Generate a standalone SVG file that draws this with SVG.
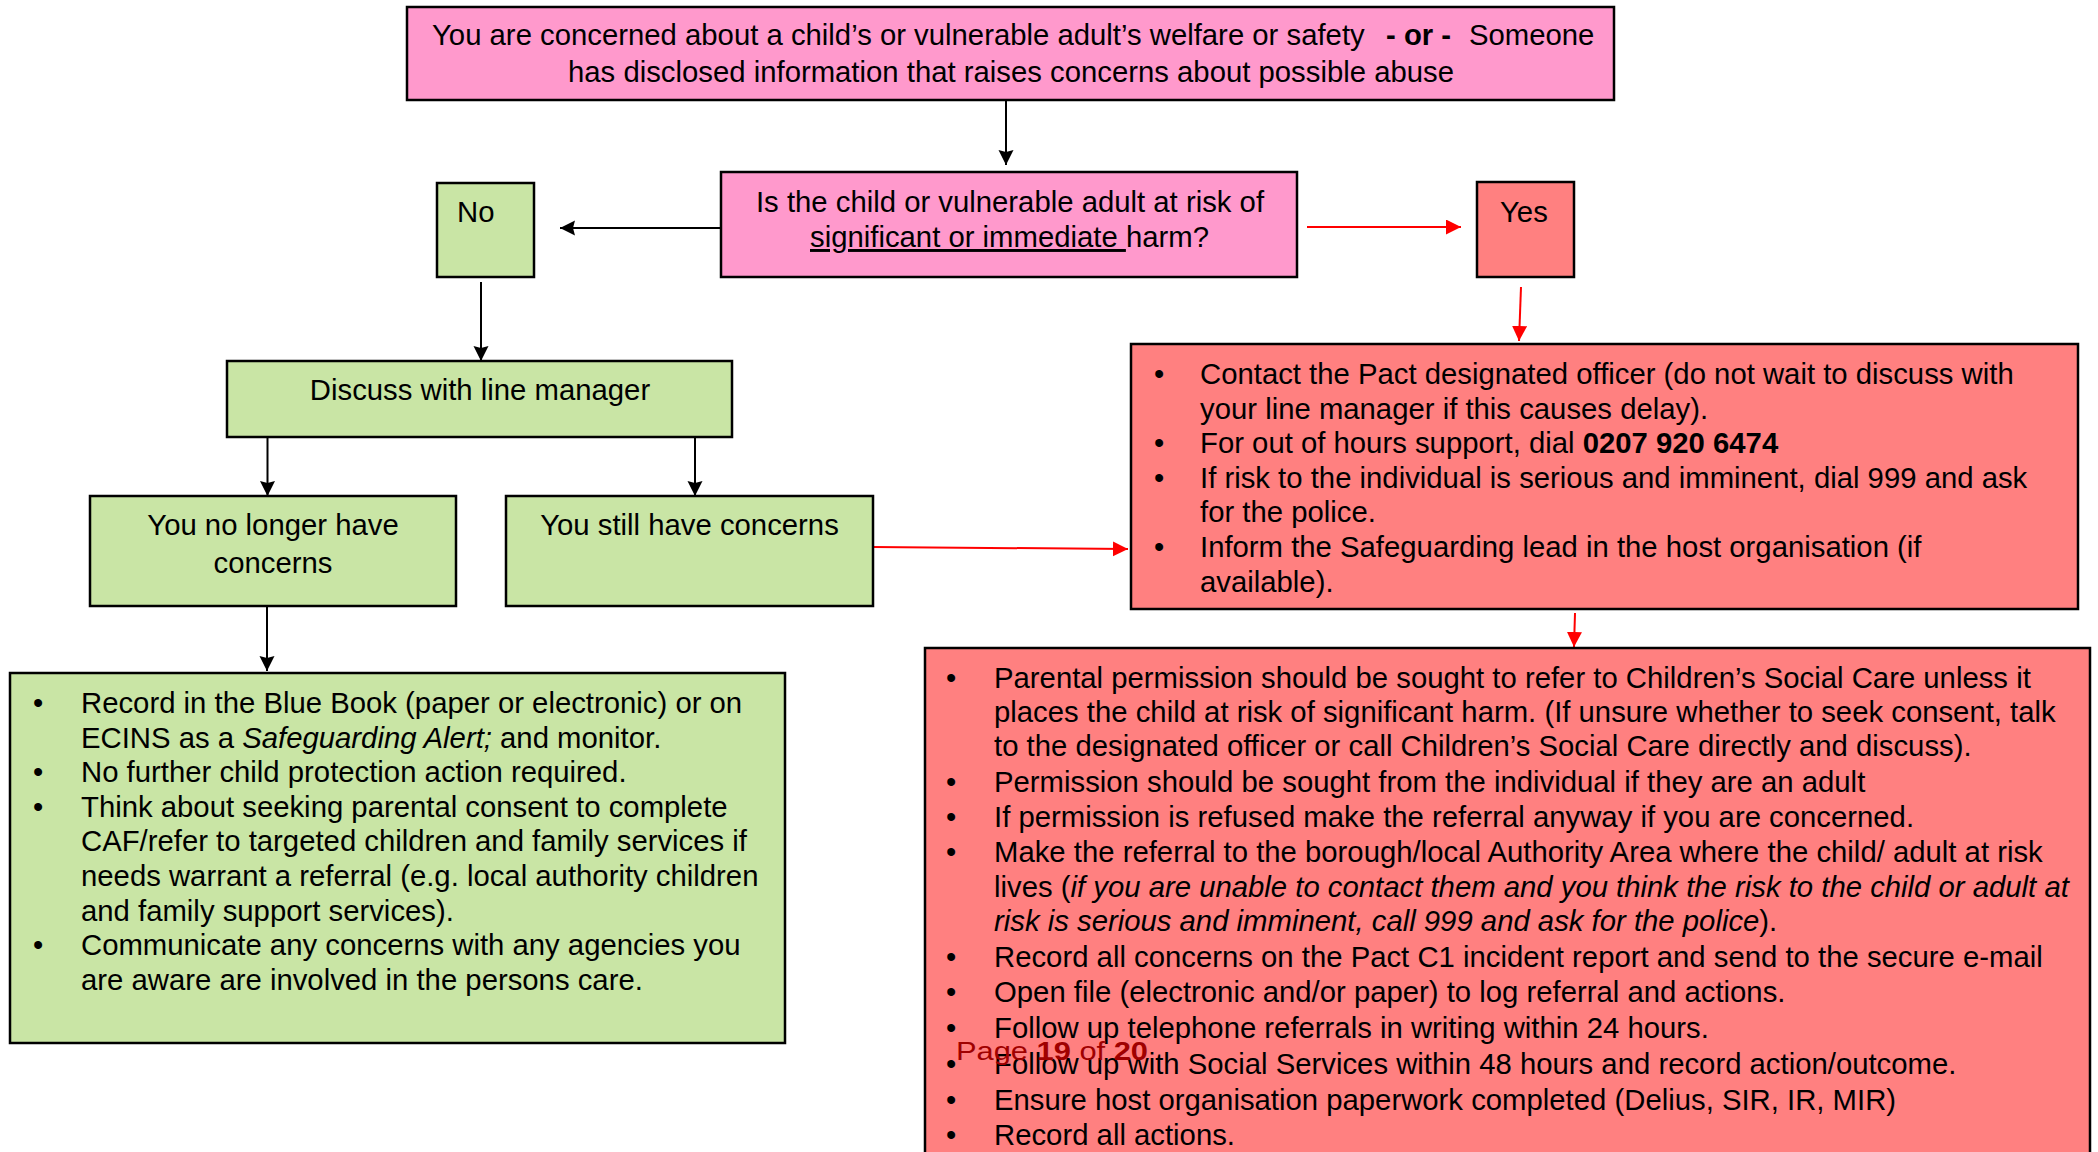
<svg xmlns="http://www.w3.org/2000/svg" width="2098" height="1152" viewBox="0 0 2098 1152">
<style>
.t{font-family:"Liberation Sans",Arial,sans-serif;font-size:29.3px;fill:#000}
.c{text-anchor:middle}
.b{font-weight:bold}
.i{font-style:italic}
.pink{fill:#FF99CC;stroke:#000;stroke-width:2.5}
.green{fill:#C9E5A5;stroke:#000;stroke-width:2.5}
.red{fill:#FF8080;stroke:#000;stroke-width:2.5}
.blk{stroke:#000;stroke-width:2;fill:none}
.rl{stroke:#FF0000;stroke-width:2;fill:none}
.foot{font-family:"Liberation Sans",Arial,sans-serif;font-size:25px;fill:#A00000}
</style>
<defs>
<marker id="ab" markerUnits="userSpaceOnUse" markerWidth="16" markerHeight="16" refX="15" refY="7.5" orient="auto">
<path d="M0,0 L15,7.5 L0,15 L2,7.5 z" fill="#000"/>
</marker>
<marker id="ar" markerUnits="userSpaceOnUse" markerWidth="16" markerHeight="16" refX="15" refY="7.5" orient="auto">
<path d="M0,0 L15,7.5 L0,15 z" fill="#FF0000"/>
</marker>
</defs>
<rect width="2098" height="1152" fill="#fff"/>

<g id="connectors">
<line class="blk" x1="1006" y1="100" x2="1006" y2="165" marker-end="url(#ab)"/>
<line class="blk" x1="720" y1="228" x2="560" y2="228" marker-end="url(#ab)"/>
<line class="rl" x1="1307" y1="227" x2="1461" y2="227" marker-end="url(#ar)"/>
<line class="blk" x1="481" y1="282" x2="481" y2="361" marker-end="url(#ab)"/>
<line class="rl" x1="1521" y1="287" x2="1519" y2="341" marker-end="url(#ar)"/>
<line class="blk" x1="267.5" y1="437" x2="267.5" y2="496" marker-end="url(#ab)"/>
<line class="blk" x1="695" y1="437" x2="695" y2="496" marker-end="url(#ab)"/>
<line class="rl" x1="873" y1="547" x2="1128" y2="549" marker-end="url(#ar)"/>
<line class="blk" x1="267" y1="606" x2="267" y2="671" marker-end="url(#ab)"/>
<line class="rl" x1="1575" y1="613" x2="1574" y2="647" marker-end="url(#ar)"/>
</g>

<g id="start">
<rect class="pink" x="407" y="7" width="1207" height="93"/>
<text class="t" y="45"><tspan x="432">You are concerned about a child’s or vulnerable adult’s welfare or safety</tspan><tspan x="1386" class="b">- or -</tspan><tspan x="1469">Someone</tspan></text>
<text class="t c" x="1011" y="82">has disclosed information that raises concerns about possible abuse</text>
</g>

<g id="question">
<rect class="pink" x="721" y="172" width="576" height="105"/>
<text class="t c" x="1010" y="212">Is the child or vulnerable adult at risk of</text>
<text class="t" x="810" y="247"><tspan text-decoration="underline">significant or immediate </tspan>harm?</text>
</g>

<g id="no">
<rect class="green" x="437" y="183" width="97" height="94"/>
<text class="t" x="457" y="222">No</text>
</g>

<g id="yes">
<rect class="red" x="1477" y="182" width="97" height="95"/>
<text class="t" x="1500" y="222">Yes</text>
</g>

<g id="discuss">
<rect class="green" x="227" y="361" width="505" height="76"/>
<text class="t c" x="480" y="400">Discuss with line manager</text>
</g>

<g id="nolonger">
<rect class="green" x="90" y="496" width="366" height="110"/>
<text class="t c" x="273" y="535">You no longer have</text>
<text class="t c" x="273" y="573">concerns</text>
</g>

<g id="still">
<rect class="green" x="506" y="496" width="367" height="110"/>
<text class="t c" x="689.5" y="535">You still have concerns</text>
</g>

<g id="record">
<rect class="green" x="10" y="673" width="775" height="370"/>
<text class="t" x="33" y="713">•</text>
<text class="t" x="81" y="713">Record in the Blue Book (paper or electronic) or on</text>
<text class="t" x="81" y="747.6">ECINS as a <tspan class="i">Safeguarding Alert;</tspan> and monitor.</text>
<text class="t" x="33" y="782.2">•</text>
<text class="t" x="81" y="782.2">No further child protection action required.</text>
<text class="t" x="33" y="816.8">•</text>
<text class="t" x="81" y="816.8">Think about seeking parental consent to complete</text>
<text class="t" x="81" y="851.4">CAF/refer to targeted children and family services if</text>
<text class="t" x="81" y="886">needs warrant a referral (e.g. local authority children</text>
<text class="t" x="81" y="920.6">and family support services).</text>
<text class="t" x="33" y="955.2">•</text>
<text class="t" x="81" y="955.2">Communicate any concerns with any agencies you</text>
<text class="t" x="81" y="989.8">are aware are involved in the persons care.</text>
</g>

<g id="contact">
<rect class="red" x="1131" y="344" width="947" height="265"/>
<text class="t" x="1154" y="384">•</text>
<text class="t" x="1200" y="384">Contact the Pact designated officer (do not wait to discuss with</text>
<text class="t" x="1200" y="418.6">your line manager if this causes delay).</text>
<text class="t" x="1154" y="453.2">•</text>
<text class="t" x="1200" y="453.2">For out of hours support, dial <tspan class="b">0207 920 6474</tspan></text>
<text class="t" x="1154" y="487.8">•</text>
<text class="t" x="1200" y="487.8">If risk to the individual is serious and imminent, dial 999 and ask</text>
<text class="t" x="1200" y="522.4">for the police.</text>
<text class="t" x="1154" y="557">•</text>
<text class="t" x="1200" y="557">Inform the Safeguarding lead in the host organisation (if</text>
<text class="t" x="1200" y="591.6">available).</text>
</g>

<g id="referral">
<rect class="red" x="925" y="648" width="1165" height="520"/>
<text class="t" x="946" y="688">•</text>
<text class="t" x="994" y="688">Parental permission should be sought to refer to Children’s Social Care unless it</text>
<text class="t" x="994" y="722">places the child at risk of significant harm. (If unsure whether to seek consent, talk</text>
<text class="t" x="994" y="756">to the designated officer or call Children’s Social Care directly and discuss).</text>
<text class="t" x="946" y="792">•</text>
<text class="t" x="994" y="792">Permission should be sought from the individual if they are an adult</text>
<text class="t" x="946" y="827">•</text>
<text class="t" x="994" y="827">If permission is refused make the referral anyway if you are concerned.</text>
<text class="t" x="946" y="862">•</text>
<text class="t" x="994" y="862">Make the referral to the borough/local Authority Area where the child/ adult at risk</text>
<text class="t" x="994" y="897">lives (<tspan class="i">if you are unable to contact them and you think the risk to the child or adult at</tspan></text>
<text class="t" x="994" y="931"><tspan class="i">risk is serious and imminent, call 999 and ask for the police</tspan>).</text>
<text class="t" x="946" y="967">•</text>
<text class="t" x="994" y="967">Record all concerns on the Pact C1 incident report and send to the secure e-mail</text>
<text class="t" x="946" y="1002">•</text>
<text class="t" x="994" y="1002">Open file (electronic and/or paper) to log referral and actions.</text>
<text class="t" x="946" y="1038">•</text>
<text class="t" x="994" y="1038">Follow up telephone referrals in writing within 24 hours.</text>
<text class="t" x="946" y="1074">•</text>
<text class="t" x="994" y="1074">Follow up with Social Services within 48 hours and record action/outcome.</text>
<text class="t" x="946" y="1110">•</text>
<text class="t" x="994" y="1110">Ensure host organisation paperwork completed (Delius, SIR, IR, MIR)</text>
<text class="t" x="946" y="1145">•</text>
<text class="t" x="994" y="1145">Record all actions.</text>
</g>

<text class="foot" x="956" y="1060" textLength="192" lengthAdjust="spacingAndGlyphs">Page <tspan font-weight="bold">19</tspan> of <tspan font-weight="bold">20</tspan></text>
</svg>
